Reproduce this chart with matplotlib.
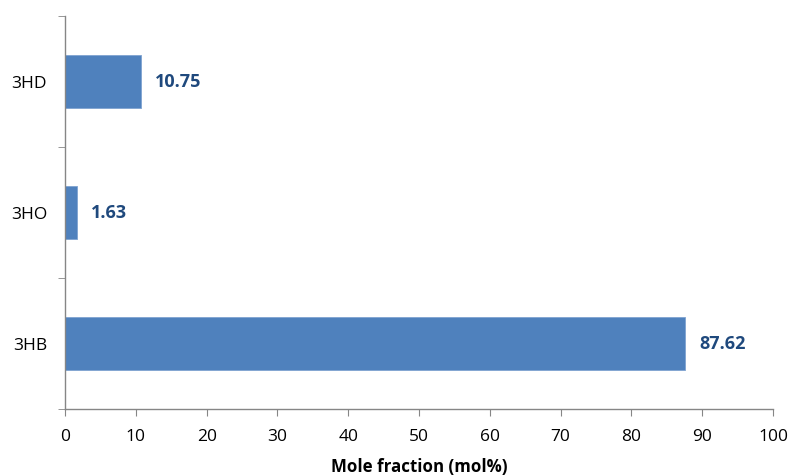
import matplotlib.pyplot as plt
from matplotlib.ticker import FixedLocator, NullFormatter

plt.rcParams['font.family'] = ['Open Sans', 'DejaVu Sans']

categories = ["3HB", "3HO", "3HD"]
values = [87.62, 1.63, 10.75]
xticks = [0, 10, 20, 30, 40, 50, 60, 70, 80, 90, 100]

bar_color = "#4F81BD"
label_color = "#1F497D"
axis_color = "#868686"

fig = plt.figure(figsize=(7.94, 4.77), dpi=100)
ax = fig.add_axes([0.0819, 0.1405, 0.8917, 0.8239])

ypos = list(range(len(categories)))
ax.barh(ypos, values, height=0.4, color=bar_color, edgecolor="#7FA3D0", linewidth=0.6)

for y, v in zip(ypos, values):
    ax.annotate(f"{v:.2f}", xy=(v, y), xytext=(10, 0), textcoords="offset points",
                va="center", ha="left", fontsize=13, fontweight="bold", color=label_color)

ax.set_xlim(0, 100)
ax.set_ylim(-0.5, len(categories) - 0.5)
ax.set_xticks(xticks)
ax.set_yticks(ypos)
ax.set_yticklabels(categories)
ax.yaxis.set_minor_locator(FixedLocator([-0.5, 0.5, 1.5, 2.5]))
ax.yaxis.set_minor_formatter(NullFormatter())

ax.tick_params(axis="y", which="major", length=0, pad=13, labelsize=12.5)
ax.tick_params(axis="y", which="minor", length=5, direction="out", color=axis_color)
ax.tick_params(axis="x", length=5, direction="out", color=axis_color, labelsize=12.5, pad=9)

for side in ["top", "right"]:
    ax.spines[side].set_visible(False)
for side in ["left", "bottom"]:
    ax.spines[side].set_color(axis_color)
    ax.spines[side].set_linewidth(1.0)

ax.set_xlabel("Mole fraction (mol%)", fontsize=12.2, fontweight="bold", labelpad=9)

fig.savefig("out.png", dpi=100)
